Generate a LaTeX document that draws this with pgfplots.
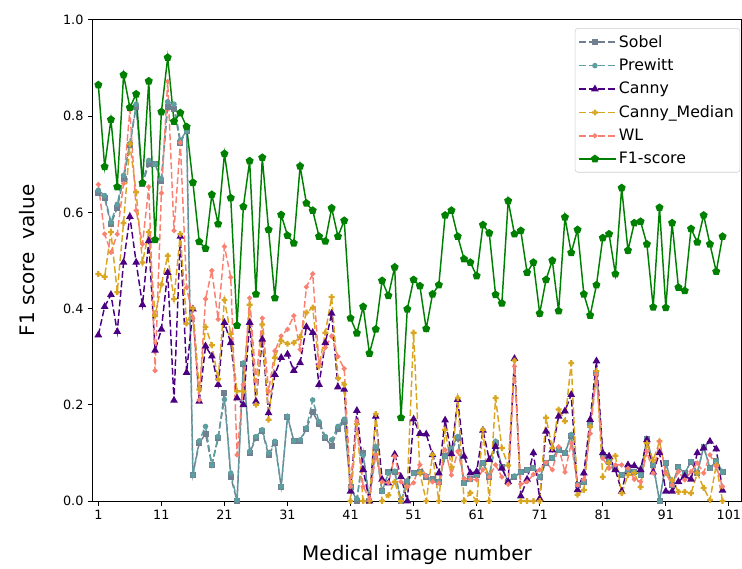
\documentclass[border=0pt]{standalone}
\usepackage{pgfplots}
\pgfplotsset{compat=1.18}
\usepackage{pgfplotstable}
\usepackage{fontspec}
\setmainfont{DejaVu Sans}

\definecolor{csobel}{HTML}{708090}
\definecolor{cprewitt}{HTML}{5F9EA0}
\definecolor{ccanny}{HTML}{4B0082}
\definecolor{cmedian}{HTML}{DAA520}
\definecolor{cwl}{HTML}{FA8072}
\definecolor{cf1}{HTML}{008000}

% filled plus marker (matplotlib "P")
\pgfdeclareplotmark{Pfill}{%
  \pgfpathrectangle{\pgfpoint{-\pgfplotmarksize}{-0.38\pgfplotmarksize}}{\pgfpoint{2\pgfplotmarksize}{0.76\pgfplotmarksize}}%
  \pgfpathrectangle{\pgfpoint{-0.38\pgfplotmarksize}{-\pgfplotmarksize}}{\pgfpoint{0.76\pgfplotmarksize}{2\pgfplotmarksize}}%
  \pgfusepathqfill}

\pgfplotstableread{
i sobel prewitt canny median wl f1
1 0.640 0.646 0.345 0.472 0.658 0.865
2 0.630 0.635 0.404 0.466 0.555 0.695
3 0.575 0.580 0.429 0.559 0.517 0.793
4 0.610 0.617 0.352 0.434 0.555 0.653
5 0.670 0.677 0.496 0.578 0.660 0.886
6 0.740 0.743 0.591 0.742 0.813 0.818
7 0.820 0.825 0.496 0.642 0.604 0.846
8 0.660 0.663 0.408 0.496 0.534 0.661
9 0.700 0.708 0.541 0.559 0.653 0.873
10 0.700 0.700 0.313 0.385 0.271 0.543
11 0.665 0.670 0.357 0.450 0.640 0.809
12 0.820 0.830 0.475 0.510 0.872 0.922
13 0.815 0.825 0.209 0.420 0.562 0.789
14 0.745 0.750 0.550 0.555 0.745 0.807
15 0.770 0.770 0.267 0.369 0.444 0.778
16 0.055 0.054 0.399 0.400 0.380 0.662
17 0.120 0.125 0.207 0.232 0.210 0.539
18 0.140 0.155 0.322 0.362 0.420 0.525
19 0.075 0.075 0.301 0.324 0.479 0.637
20 0.130 0.134 0.242 0.253 0.378 0.576
21 0.225 0.211 0.371 0.418 0.529 0.722
22 0.050 0.058 0.329 0.347 0.465 0.630
23 0.000 0.002 0.214 0.228 0.096 0.365
24 0.285 0.287 0.200 0.228 0.242 0.612
25 0.100 0.103 0.371 0.408 0.422 0.707
26 0.130 0.134 0.207 0.200 0.249 0.430
27 0.145 0.148 0.336 0.367 0.380 0.714
28 0.095 0.100 0.183 0.169 0.228 0.564
29 0.120 0.124 0.263 0.298 0.312 0.422
30 0.030 0.030 0.298 0.333 0.343 0.595
31 0.175 0.176 0.305 0.327 0.357 0.552
32 0.125 0.125 0.271 0.329 0.385 0.536
33 0.125 0.127 0.287 0.341 0.315 0.696
34 0.150 0.152 0.362 0.392 0.445 0.619
35 0.185 0.210 0.350 0.402 0.472 0.604
36 0.160 0.165 0.242 0.280 0.285 0.550
37 0.130 0.134 0.329 0.350 0.319 0.540
38 0.115 0.127 0.390 0.424 0.343 0.609
39 0.150 0.155 0.237 0.255 0.300 0.550
40 0.165 0.170 0.232 0.242 0.275 0.583
41 0.030 0.030 0.020 0.000 0.030 0.380
42 0.000 0.005 0.188 0.160 0.166 0.349
43 0.100 0.095 0.065 0.000 0.030 0.404
44 0.000 0.000 0.000 0.000 0.005 0.307
45 0.110 0.113 0.176 0.181 0.096 0.357
46 0.020 0.020 0.045 0.000 0.040 0.458
47 0.060 0.058 0.037 0.012 0.038 0.427
48 0.060 0.062 0.097 0.040 0.093 0.486
49 0.000 0.000 0.050 0.000 0.040 0.173
50 0.040 0.042 0.000 0.030 0.030 0.399
51 0.058 0.058 0.170 0.350 0.038 0.460
52 0.060 0.060 0.140 0.058 0.075 0.447
53 0.050 0.052 0.139 0.000 0.052 0.358
54 0.045 0.044 0.096 0.096 0.040 0.430
55 0.040 0.040 0.058 0.000 0.037 0.449
56 0.093 0.093 0.168 0.148 0.106 0.594
57 0.105 0.110 0.098 0.070 0.054 0.604
58 0.130 0.134 0.211 0.214 0.103 0.550
59 0.037 0.037 0.093 0.000 0.047 0.503
60 0.045 0.045 0.058 0.017 0.045 0.496
61 0.055 0.055 0.061 0.000 0.044 0.468
62 0.079 0.079 0.147 0.148 0.065 0.574
63 0.050 0.052 0.086 0.000 0.050 0.557
64 0.120 0.124 0.113 0.214 0.075 0.429
65 0.070 0.070 0.068 0.110 0.050 0.411
66 0.040 0.040 0.040 0.074 0.035 0.624
67 0.050 0.052 0.296 0.292 0.280 0.555
68 0.060 0.060 0.010 0.000 0.035 0.562
69 0.065 0.065 0.045 0.000 0.040 0.475
70 0.068 0.068 0.100 0.000 0.055 0.496
71 0.050 0.050 0.005 0.000 0.065 0.390
72 0.080 0.080 0.145 0.173 0.080 0.460
73 0.090 0.090 0.106 0.110 0.065 0.500
74 0.106 0.106 0.176 0.190 0.113 0.395
75 0.100 0.100 0.187 0.166 0.060 0.590
76 0.135 0.138 0.221 0.287 0.120 0.516
77 0.033 0.033 0.023 0.013 0.033 0.564
78 0.040 0.040 0.058 0.023 0.045 0.430
79 0.159 0.159 0.169 0.155 0.140 0.386
80 0.266 0.266 0.291 0.270 0.263 0.449
81 0.096 0.096 0.100 0.050 0.089 0.547
82 0.082 0.082 0.093 0.079 0.068 0.555
83 0.068 0.068 0.065 0.094 0.075 0.472
84 0.054 0.054 0.020 0.016 0.075 0.651
85 0.065 0.065 0.075 0.054 0.068 0.521
86 0.061 0.061 0.073 0.058 0.045 0.578
87 0.054 0.054 0.065 0.029 0.040 0.581
88 0.129 0.129 0.127 0.120 0.103 0.534
89 0.075 0.075 0.060 0.085 0.058 0.403
90 0.000 0.000 0.100 0.124 0.124 0.610
91 0.079 0.079 0.020 0.058 0.058 0.402
92 0.033 0.033 0.020 0.044 0.033 0.578
93 0.070 0.070 0.040 0.019 0.061 0.444
94 0.058 0.058 0.052 0.019 0.044 0.437
95 0.082 0.082 0.045 0.016 0.061 0.566
96 0.058 0.058 0.100 0.058 0.079 0.538
97 0.113 0.113 0.110 0.027 0.058 0.594
98 0.068 0.068 0.124 0.002 0.096 0.534
99 0.083 0.083 0.108 0.075 0.072 0.477
100 0.061 0.061 0.022 0.000 0.030 0.550
}\scores

\begin{document}
\begin{tikzpicture}
\begin{axis}[
    name=ax,
    scale only axis,
    width=486.6pt, height=360.75pt,
    xmin=0.1, xmax=103,
    ymin=0, ymax=1,
    xtick={1,11,...,101},
    ytick={0,0.2,...,1.0},
    yticklabel style={/pgf/number format/.cd, fixed, fixed zerofill, precision=1},
    /pgf/number format/assume math mode=true,
    tick label style={font=\fontsize{9.6}{11}\selectfont},
    tick align=outside,
    xtick pos=bottom, ytick pos=left,
    major tick length=3.4pt,
    every tick/.style={black, line width=0.75pt},
    axis line style={line width=0.75pt},
    xlabel={Medical image number},
    ylabel={F1 score\ \ value},
    label style={font=\fontsize{15}{18}\selectfont},
    xlabel style={at={(axis description cs:0.5,-0.112)}, anchor=center},
    ylabel style={at={(axis description cs:-0.1016,0.5)}, anchor=center},
    legend style={at={(0.998,0.983)}, anchor=north east,
        font=\fontsize{11.8}{14}\selectfont,
        draw=black!20, rounded corners=2pt,
        row sep=3.2pt, inner xsep=2.5pt, inner ysep=3pt},
    legend cell align=left,
    legend image code/.code={%
        \draw[mark repeat=2, mark phase=2, #1]
        plot coordinates {(0pt,0pt) (11.75pt,0pt) (23.5pt,0pt)};
        \path (0pt,0pt) -- (27.2pt,0pt);},
    every axis plot/.append style={line width=1.1pt},
    dashstyle/.style={dash pattern=on 5pt off 2.2pt},
]
\addplot[csobel, dashstyle, mark=square*, mark size=1.7pt, mark options={solid}]
    table[x=i, y=sobel] {\scores};
\addlegendentry{Sobel}
\addplot[cprewitt, dashstyle, mark=*, mark size=1.5pt, mark options={solid}]
    table[x=i, y=prewitt] {\scores};
\addlegendentry{Prewitt}
\addplot[ccanny, dashstyle, mark=triangle*, mark size=2.3pt, mark options={solid}]
    table[x=i, y=canny] {\scores};
\addlegendentry{Canny}
\addplot[cmedian, dashstyle, mark=Pfill, mark size=2.2pt, mark options={solid}]
    table[x=i, y=median] {\scores};
\addlegendentry{Canny\_Median}
\addplot[cwl, dashstyle, mark=*, mark size=1.3pt, mark options={solid}]
    table[x=i, y=wl] {\scores};
\addlegendentry{WL}
\addplot[cf1, solid, mark=pentagon*, mark size=2.5pt]
    table[x=i, y=f1] {\scores};
\addlegendentry{F1-score}
\end{axis}
\pgfresetboundingbox
\path[use as bounding box] ([xshift=-69.5pt,yshift=-50.25pt]ax.south west)
    rectangle ([xshift=0.4pt,yshift=15pt]ax.north east);
\end{tikzpicture}
\end{document}
